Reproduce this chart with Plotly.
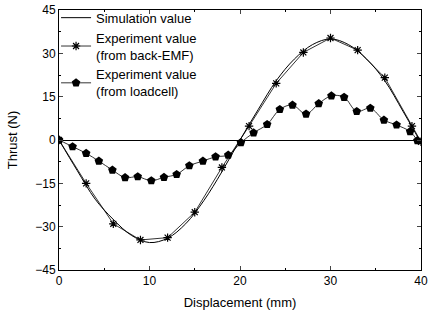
import plotly.graph_objects as go

# Simulation value
sim_x = [0, 2, 4, 6, 8, 10, 12, 14, 16, 18, 20, 22, 24, 26, 28, 30, 32, 34, 36, 38, 40]
sim_y = [0, -10.5, -20.5, -27.5, -33, -35.5, -34, -29, -21, -11, 0, 10.5, 20.5, 28, 33, 35, 33, 28, 20.5, 10, -1]

# Experiment value (from back-EMF)
emf_x = [0, 3, 6, 9, 12, 15, 18, 21, 24, 27, 30, 33, 36, 39, 40]
emf_y = [0, -15, -29, -34.6, -33.8, -25, -9.5, 4.8, 19.6, 30.3, 35.3, 31.1, 21.6, 4.8, -0.6]

# Experiment value (from loadcell)
load_x = [0, 1.5, 3.0, 4.4, 5.9, 7.3, 8.7, 10.2, 11.6, 13.0, 14.4, 15.9, 17.3, 18.7,
          20.1, 21.5, 23.0, 24.4, 25.8, 27.3, 28.7, 30.1, 31.5, 32.9, 34.4, 35.9, 37.3, 38.8, 39.6]
load_y = [0, -2.3, -4.6, -7.3, -10.4, -13, -12.7, -14.1, -12.9, -11.9, -8.9, -7.3, -5.8, -5.2,
          -0.9, 2.5, 5.4, 10.6, 12.1, 9, 12.6, 15.3, 14.8, 9.9, 11, 6.9, 5.2, 2.9, -0.2]

x_ticks = [0, 10, 20, 30, 40]
y_ticks = [-45, -30, -15, 0, 15, 30, 45]

fig = go.Figure()
fig.add_trace(go.Scatter(x=sim_x, y=sim_y, mode="lines", name="Simulation value",
                         line=dict(color="black", width=1, shape="spline")))
fig.add_trace(go.Scatter(x=emf_x, y=emf_y, mode="lines+markers",
                         name="Experiment value<br>(from back-EMF)",
                         line=dict(color="black", width=0.8),
                         marker=dict(symbol="asterisk-open", size=7,
                                     line=dict(color="black", width=1.2))))
fig.add_trace(go.Scatter(x=load_x, y=load_y, mode="lines+markers",
                         name="Experiment value<br>(from loadcell)",
                         line=dict(color="black", width=0.8, shape="spline"),
                         marker=dict(symbol="pentagon", size=9, color="black")))

font = dict(family="Liberation Sans, Arial", size=12, color="black")
fig.update_layout(
    width=428, height=321,
    margin=dict(l=59, r=0, t=10, b=51),
    paper_bgcolor="white", plot_bgcolor="white",
    font=font,
    showlegend=True,
    legend=dict(x=-0.008, y=1.028, xanchor="left", yanchor="top",
                bgcolor="rgba(0,0,0,0)", font=dict(family="Liberation Sans, Arial", size=13),
                tracegroupgap=0, itemwidth=30),
    xaxis=dict(range=[0, 40], tickvals=x_ticks, ticks="inside", ticklen=4,
               domain=[0, 362 / 369],
               showline=True, linecolor="black", linewidth=1, mirror="ticks",
               showgrid=False, zeroline=False, automargin=False,
               minor=dict(ticks="inside", dtick=5, ticklen=2, tickcolor="black"),
               title=dict(text="Displacement (mm)", font=dict(size=13), standoff=10),
               tickfont=dict(size=12)),
    yaxis=dict(range=[-45, 45], tickvals=y_ticks, ticks="inside", ticklen=4,
               showline=True, linecolor="black", linewidth=1, mirror="ticks",
               showgrid=False, zeroline=True, zerolinecolor="black", zerolinewidth=1,
               automargin=False,
               minor=dict(ticks="inside", dtick=7.5, ticklen=2, tickcolor="black"),
               title=dict(text="Thrust (N)", font=dict(size=13), standoff=14),
               tickfont=dict(size=12)),
)

fig.write_html("out.html", config={"displayModeBar": False},
               post_script="document.body.style.margin='0';document.body.style.overflow='hidden';")
